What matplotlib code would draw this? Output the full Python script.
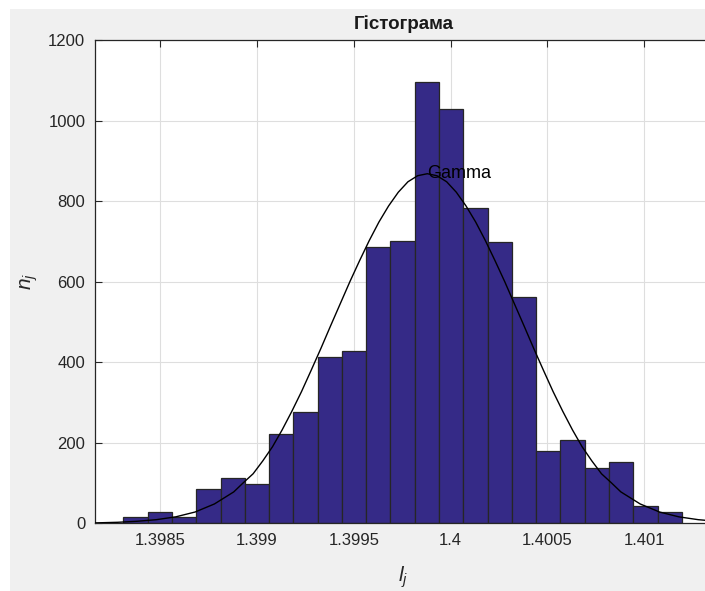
import numpy as np
import matplotlib.pyplot as plt
from matplotlib.patches import Rectangle

plt.rcParams['font.family'] = ['Liberation Sans', 'DejaVu Sans']
plt.rcParams['mathtext.fontset'] = 'custom'
plt.rcParams['mathtext.it'] = 'Liberation Sans:italic'
plt.rcParams['mathtext.rm'] = 'Liberation Sans'

# histogram bins: first edge, width and counts per bin
bin_start = 1.39831
bin_width = 0.00012543
counts = [15, 29, 15, 84, 112, 98, 221, 277, 412, 427, 687, 701,
          1095, 1028, 782, 699, 563, 180, 207, 138, 152, 44, 29]

# fitted gamma density (scaled to counts)
fit_x = [1.398163, 1.39828, 1.39838, 1.39848, 1.39858, 1.39868, 1.39873,
         1.39878, 1.39883, 1.39888, 1.39893, 1.39898, 1.39903, 1.39908,
         1.39913, 1.39918, 1.39923, 1.39928, 1.39933, 1.39938, 1.39943,
         1.39948, 1.39953, 1.39958, 1.39963, 1.39968, 1.39973, 1.39978,
         1.39983, 1.39988, 1.39993, 1.39998, 1.40003, 1.40008, 1.40013,
         1.40018, 1.40023, 1.40028, 1.40033, 1.40038, 1.40043, 1.40048,
         1.40053, 1.40058, 1.40063, 1.40068, 1.40073, 1.40078, 1.40083,
         1.40088, 1.40093, 1.40098, 1.40103, 1.40108, 1.40118, 1.40128,
         1.401351]
fit_y = [1, 2.5, 5, 9, 16, 28, 38,
         48, 63, 78, 101, 123, 155, 190,
         232, 278, 327, 380, 434, 490, 545,
         600, 652, 702, 748, 788, 822, 848,
         863, 868, 863, 848, 822, 788, 748,
         702, 652, 600, 545, 490, 434, 380,
         327, 278, 232, 190, 155, 123, 101,
         78, 63, 48, 38, 28, 16, 9,
         6]

yticks = [0, 200, 400, 600, 800, 1000, 1200]
xticks = [1.3985, 1.399, 1.3995, 1.4, 1.4005, 1.401]
xtick_labels = ['1.3985', '1.399', '1.3995', '1.4', '1.4005', '1.401']

W, H = 705, 591
fig = plt.figure(figsize=(W / 100, H / 100), dpi=100, facecolor='#f0f0f0')
# white margin along top and left
fig.patches.append(Rectangle((0, 1 - 9 / H), 1, 9 / H, transform=fig.transFigure,
                             facecolor='white', edgecolor='none', zorder=-1))
fig.patches.append(Rectangle((0, 0), 10 / W, 1, transform=fig.transFigure,
                             facecolor='white', edgecolor='none', zorder=-1))

ax = fig.add_axes([95 / W, (H - 523.3) / H, 617 / W, 483.3 / H])
ax.set_facecolor('white')

edges = bin_start + bin_width * np.arange(len(counts))
ax.bar(edges, counts, width=bin_width, align='edge', color='#352a87',
       edgecolor='#262626', linewidth=0.9, zorder=2)
ax.plot(fit_x, fit_y, color='black', linewidth=1.0, zorder=3)

k = int(np.argmax(fit_y))
ax.text(fit_x[k], fit_y[k], 'Gamma', fontsize=13, ha='left', va='center',
        color='black', zorder=4)

ax.set_xlim(1.398163, 1.401351)
ax.set_ylim(0, 1200)
ax.set_xticks(xticks)
ax.set_xticklabels(xtick_labels)
ax.set_yticks(yticks)
ax.grid(True, color='#dedede', linewidth=0.8, zorder=0)
ax.set_axisbelow(True)

ax.tick_params(direction='in', length=5, width=0.8, colors='#262626',
               labelsize=12, top=True, right=True, pad=7)
for s in ax.spines.values():
    s.set_color('#262626')
    s.set_linewidth(0.9)

ax.set_title('Гістограма', fontsize=13.5, fontweight='bold', color='#1a1a1a', pad=8)
ax.set_xlabel('$l_j$', fontsize=15, color='#262626', labelpad=12)
ax.set_ylabel('$n_j$', fontsize=15, color='#262626', labelpad=6)

fig.savefig('out.png', dpi=100, facecolor=fig.get_facecolor())
